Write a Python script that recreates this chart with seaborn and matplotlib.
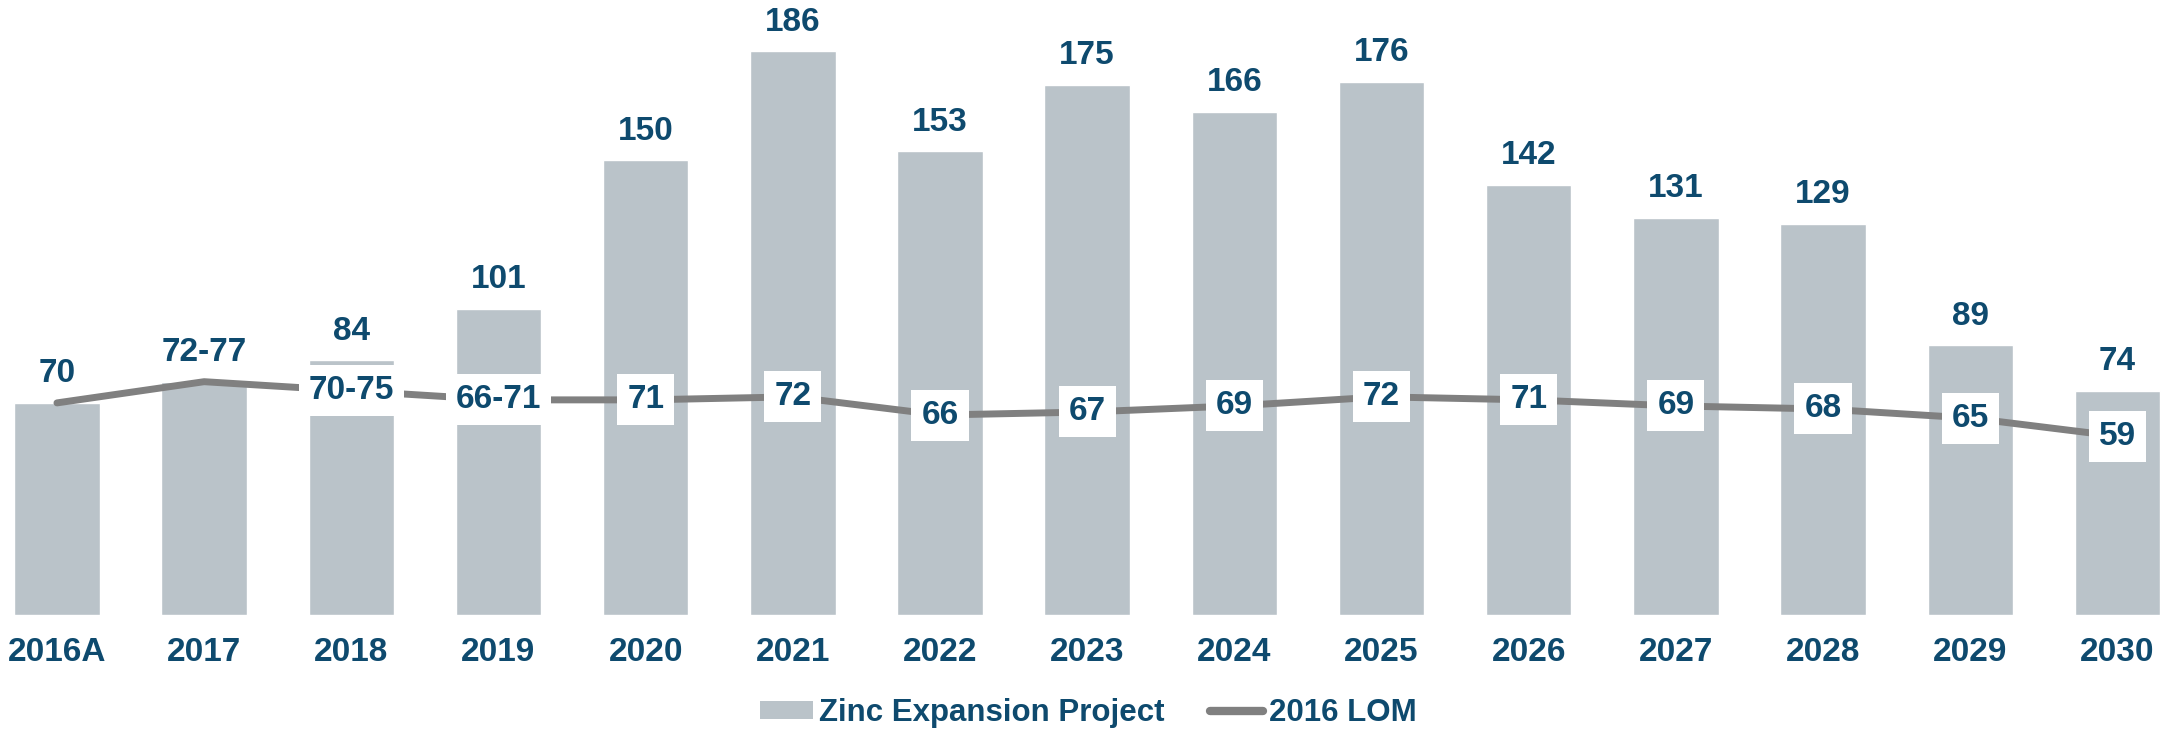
import numpy as np
import pandas as pd
import matplotlib
matplotlib.use("Agg")
import matplotlib.pyplot as plt
import seaborn as sns
from matplotlib.patches import Patch
from matplotlib.lines import Line2D

# data
years = ["2016A", "2017", "2018", "2019", "2020", "2021", "2022", "2023",
         "2024", "2025", "2026", "2027", "2028", "2029", "2030"]
zinc_expansion = [70, 77, 84, 101, 150, 186, 153, 175, 166, 176, 142, 131, 129, 89, 74]
zinc_labels = ["70", "72-77", "84", "101", "150", "186", "153", "175",
               "166", "176", "142", "131", "129", "89", "74"]
lom_2016 = [70, 77, 74, 71, 71, 72, 66, 67, 69, 72, 71, 69, 68, 65, 59]
lom_labels = ["", "", "70-75", "66-71", "71", "72", "66", "67",
              "69", "72", "71", "69", "68", "65", "59"]

BAR_COLOR = "#BAC3C9"
LINE_COLOR = "#808080"
TEXT_COLOR = "#0E4A6E"
FS = 24

sns.set_style("white")
plt.rcParams['font.family'] = ['Liberation Sans', 'DejaVu Sans']
plt.rcParams['font.weight'] = 'bold'

df = pd.DataFrame({"year": years, "zinc": zinc_expansion, "lom": lom_2016})

fig = plt.figure(figsize=(21.77, 7.30), dpi=100)
ax = fig.add_axes([0, 115 / 730, 1, 606 / 730])

sns.barplot(data=df, x="year", y="zinc", color=BAR_COLOR, width=0.58,
            saturation=1, ax=ax, zorder=1)
pos = np.arange(len(years))
sns.lineplot(x=pos, y=df["lom"], color=LINE_COLOR, linewidth=5, ax=ax,
             zorder=2, solid_capstyle="round")

# bar value labels
for i, (v, lab) in enumerate(zip(zinc_expansion, zinc_labels)):
    ax.annotate(lab, (i, v), xytext=(0, 21), textcoords="offset points",
                ha="center", va="center", fontsize=FS, fontweight="bold",
                color=TEXT_COLOR, zorder=4)

# line value labels in white boxes
for i, (v, lab) in enumerate(zip(lom_2016, lom_labels)):
    if not lab:
        continue
    ax.text(i, v, lab, ha="center", va="center", fontsize=FS, fontweight="bold",
            color=TEXT_COLOR, zorder=5,
            bbox=dict(boxstyle="square,pad=0.3", fc="white", ec="none"))

ax.set_ylim(0, 200)
ax.set_xlim(-0.387, 14.405)
ax.set_xlabel("")
ax.set_ylabel("")
ax.set_yticks([])
ax.tick_params(axis="x", length=0, pad=16, labelsize=FS, labelcolor=TEXT_COLOR)
for t in ax.get_xticklabels():
    t.set_fontweight("bold")
sns.despine(ax=ax, left=True, bottom=True)
if ax.get_legend():
    ax.get_legend().remove()

handles = [Patch(facecolor=BAR_COLOR, edgecolor="none"),
           Line2D([0], [0], color=LINE_COLOR, linewidth=6, solid_capstyle="round")]
fig.legend(handles, ["Zinc Expansion Project", "2016 LOM"], loc="center",
           bbox_to_anchor=(0.5, 1 - 713 / 730), ncol=2, frameon=False,
           labelcolor=TEXT_COLOR, handlelength=1.7,
           handleheight=0.5, handletextpad=0.2, columnspacing=1.45,
           prop={"weight": "bold", "size": 22.5})

fig.savefig("out.png", dpi=100)
